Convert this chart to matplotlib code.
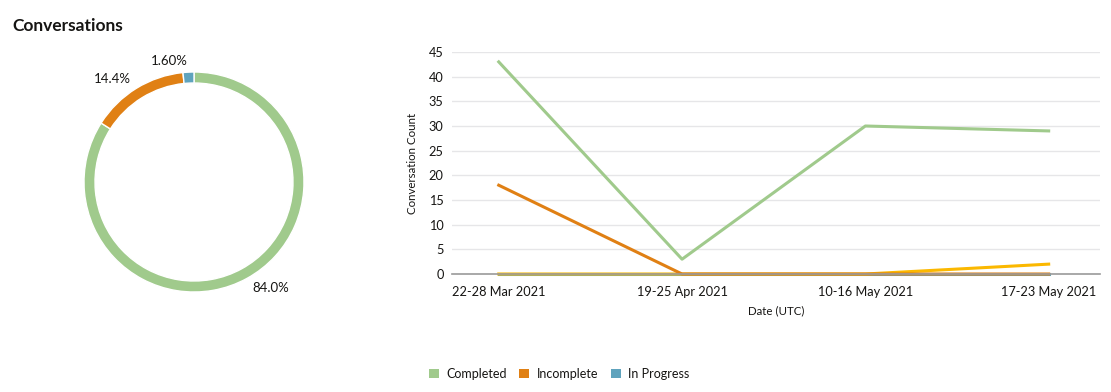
import matplotlib
matplotlib.use("Agg")
import matplotlib.pyplot as plt
from matplotlib.patches import Patch

plt.rcParams['font.family'] = ['Lato', 'DejaVu Sans']

# Data
categories = ["22-28 Mar 2021", "19-25 Apr 2021", "10-16 May 2021", "17-23 May 2021"]
completed = [43, 3, 30, 29]
incomplete = [18, 0, 0, 0]
in_progress = [0, 0, 0, 0]
other_series = [0, 0, 0, 2]
pie_labels = ["Completed", "Incomplete", "In Progress"]
pie_values = [105, 18, 2]
yticks = [0, 5, 10, 15, 20, 25, 30, 35, 40, 45]

C_GREEN = "#a0ca8c"
C_ORANGE = "#e08014"
C_BLUE = "#5fa3bd"
C_YELLOW = "#fbb800"
C_GRAY = "#9a9a9a"

W, H = 1111, 392
fig = plt.figure(figsize=(W / 100, H / 100), dpi=100)

def px_axes(l, t, r, b):
    return fig.add_axes([l / W, 1 - b / H, (r - l) / W, (b - t) / H])

fig.text(12 / W, 1 - 26 / H, "Conversations", fontsize=12.5, fontweight="bold",
         va="center", ha="left", color="#161513")

# Donut
cx, cy, R = 194, 182, 110
axp = px_axes(cx - 120, cy - 120, cx + 120, cy + 120)
total = sum(pie_values)
texts = ["%#.3g%%" % (v / total * 100) for v in pie_values]
wedges, lbls = axp.pie(pie_values, colors=[C_GREEN, C_ORANGE, C_BLUE], startangle=90,
                       counterclock=False, radius=1.0, labels=texts, labeldistance=1.1,
                       wedgeprops=dict(width=0.1, edgecolor="white", linewidth=1),
                       textprops=dict(fontsize=9.5, color="#161513"))
for t in lbls:
    t.set_va("center")
axp.set_xlim(-120 / R, 120 / R)
axp.set_ylim(-120 / R, 120 / R)
axp.set_aspect("equal")
axp.axis("off")

# Line chart
ax = px_axes(452, 52, 1100, 274)
x = list(range(len(categories)))
ax.plot(x, in_progress, color=C_BLUE, lw=2.2, clip_on=False, zorder=3)
ax.plot(x, other_series, color=C_YELLOW, lw=2.2, clip_on=False, zorder=3)
ax.plot(x, incomplete, color=C_ORANGE, lw=2.2, clip_on=False, zorder=4)
ax.plot(x, completed, color=C_GREEN, lw=2.2, clip_on=False, zorder=5)
ax.axhline(0, color=C_GRAY, lw=1.2, zorder=4.5, clip_on=False)
ax.set_ylim(0, 45)
ax.set_xlim(-0.255, 3.28)
ax.set_yticks(yticks)
ax.set_xticks(x)
ax.set_xticklabels(categories)
ax.grid(axis="y", color="#e6e6e8", lw=1)
ax.set_axisbelow(True)
for s in ax.spines.values():
    s.set_visible(False)
ax.tick_params(length=0, labelsize=9.2, colors="#161513", pad=6)
ax.tick_params(axis="x", pad=9)
ax.set_ylabel("Conversation Count", fontsize=8.3, color="#161513", labelpad=8)
ax.set_xlabel("Date (UTC)", fontsize=8.3, color="#161513", labelpad=5)

handles = [Patch(facecolor=c, edgecolor="none", label=l)
           for c, l in zip([C_GREEN, C_ORANGE, C_BLUE], pie_labels)]
fig.legend(handles=handles, loc="center", bbox_to_anchor=(559 / W, 1 - 374 / H), ncol=3,
           frameon=False, fontsize=9, handlelength=0.8, handleheight=0.8,
           handletextpad=0.6, columnspacing=1.0, labelcolor="#161513")

fig.savefig("out.png", dpi=100)
